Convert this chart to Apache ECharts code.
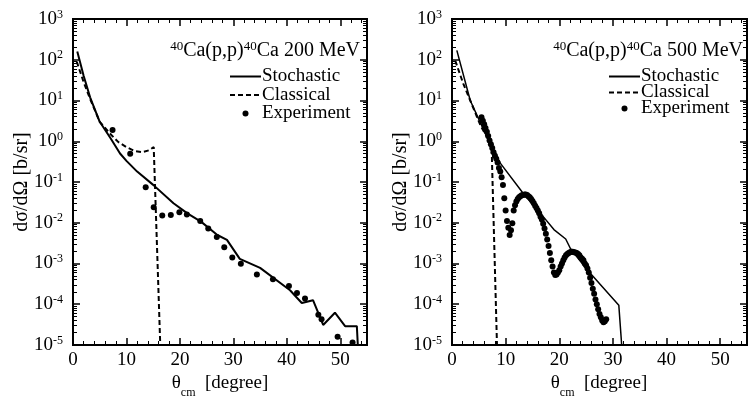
<!DOCTYPE html>
<html>
<head>
<meta charset="utf-8">
<script src="https://cdn.jsdelivr.net/npm/echarts@6/dist/echarts.min.js"></script>
<style>
  html, body { margin: 0; padding: 0; background: #fff; }
  #chart { width: 751px; height: 398px; }
</style>
</head>
<body>
<div id="chart"></div>
<script>
const fontFam = 'Liberation Serif';

// 200 MeV panel
const stoch200X = [0.8, 2.0, 3.2, 5.0, 7.0, 8.8, 10.0, 12.0, 15.0, 18.8, 21.4, 24.0, 27.0, 28.8, 31.2, 35.0, 40.6, 42.8, 44.9, 46.8, 49.0, 50.9, 53.1, 53.4];
const stoch200Y = [160, 40, 12, 3.0, 1.2, 0.5, 0.33, 0.18, 0.085, 0.03, 0.017, 0.0105, 0.005, 0.0038, 0.0013, 0.00078, 0.00022, 0.000107, 0.000126, 0.000031, 0.000062, 0.000029, 0.000029, 0.000005];
const class200X = [0.7, 2.0, 3.2, 5.0, 7.0, 8.5, 10.0, 11.5, 13.0, 14.2, 15.1, 16.4];
const class200Y = [90, 28, 11, 3.0, 1.5, 0.95, 0.72, 0.58, 0.54, 0.6, 0.72, 0.000005];
const exp200X = [7.4, 10.7, 13.6, 15.1, 16.7, 18.3, 19.9, 21.3, 23.8, 25.3, 26.9, 28.3, 29.8, 31.4, 34.4, 37.4, 40.4, 41.9, 43.4, 45.9, 46.5, 49.5, 52.3];
const exp200Y = [1.9, 0.49, 0.074, 0.024, 0.015, 0.0155, 0.018, 0.016, 0.011, 0.0072, 0.0045, 0.0025, 0.0014, 0.00098, 0.00054, 0.00041, 0.00028, 0.00019, 0.000138, 0.000055, 0.000043, 0.000016, 0.0000115];

// 500 MeV panel
const stoch500X = [0.9, 3.4, 5.9, 7.4, 9.0, 13.4, 16.5, 19.0, 21.2, 22.1, 25.2, 31.1, 31.8];
const stoch500Y = [170, 10, 1.9, 0.73, 0.29, 0.05, 0.017, 0.0068, 0.004, 0.0023, 0.0007, 0.000095, 0.000005];
const class500X = [0.6, 2.1, 3.4, 5.4, 7.2, 7.4, 8.45];
const class500Y = [95, 26, 10, 2.3, 0.9, 0.6, 0.000005];
const exp500X = [5.5, 5.75, 6.0, 6.25, 6.5, 6.75, 7.0, 7.25, 7.5, 7.75, 8.0, 8.25, 8.5, 8.75, 9.0, 9.25, 9.5, 9.75, 10.0, 10.25, 10.5, 10.75,
  11.0, 11.25, 11.5, 11.75, 12.0, 12.25, 12.5, 12.75, 13.0, 13.25, 13.5, 13.75, 14.0, 14.25, 14.5, 14.75, 15.0, 15.25, 15.5, 15.75,
  16.0, 16.25, 16.5, 16.75, 17.0, 17.25, 17.5, 17.75, 18.0, 18.25, 18.5, 18.75, 19.0, 19.25, 19.5, 19.75, 20.0, 20.25, 20.5, 20.75,
  21.0, 21.25, 21.5, 21.75, 22.0, 22.25, 22.5, 22.75, 23.0, 23.25, 23.5, 23.75, 24.0, 24.25, 24.5, 24.75, 25.0, 25.25, 25.5, 25.75,
  26.0, 26.25, 26.5, 26.75, 27.0, 27.25, 27.5, 27.75, 28.0, 28.25, 28.5, 28.75];
const exp500Y = [3.9, 3.2, 2.6, 2.1, 1.7, 1.35, 1.05, 0.85, 0.68, 0.54, 0.44, 0.37, 0.3, 0.22, 0.18, 0.13, 0.085, 0.04, 0.02, 0.011, 0.0075, 0.005,
  0.0065, 0.0097, 0.02, 0.027, 0.033, 0.038, 0.042, 0.045, 0.047, 0.048, 0.049, 0.049, 0.048, 0.045, 0.042, 0.038, 0.034, 0.03, 0.026, 0.023,
  0.02, 0.017, 0.014, 0.012, 0.0095, 0.0072, 0.0054, 0.0039, 0.0027, 0.0018, 0.0012, 0.00085, 0.0006, 0.00052, 0.00054, 0.0006, 0.00068, 0.00085, 0.001, 0.0012,
  0.0014, 0.0016, 0.0017, 0.0018, 0.0019, 0.00195, 0.00195, 0.0019, 0.00185, 0.0018, 0.0017, 0.0016, 0.0014, 0.0013, 0.0012, 0.001, 0.0009, 0.00075, 0.0006, 0.00045,
  0.00033, 0.00024, 0.00018, 0.00013, 0.0001, 0.000075, 0.000058, 0.000048, 0.00004, 0.000036, 0.000038, 0.000043];

const zip = (xs, ys) => xs.map((x, i) => [x, ys[i]]);

const black = '#000';
const clear = 'rgba(0,0,0,0)';

// frame drawn by the grid border, ticks by the axes
const grids = [
  { left: 73, top: 19, width: 294, height: 326, outerBoundsMode: 'none', show: true, borderColor: black, borderWidth: 2, backgroundColor: clear },
  { left: 452, top: 19, width: 295, height: 326, outerBoundsMode: 'none', show: true, borderColor: black, borderWidth: 2, backgroundColor: clear }
];

const supRich = {
  b: { fontFamily: fontFam, fontSize: 19, color: black },
  s: { fontFamily: fontFam, fontSize: 12, color: black, padding: [0, 0, 9, 0] }
};

function xAxesFor(g) {
  const mk = (pos, labelColor) => ({
    gridIndex: g, type: 'value', min: 0, max: 55, interval: 10, position: pos,
    axisLine: { show: true, onZero: false, lineStyle: { color: black, width: 2 } },
    axisTick: { show: true, inside: true, length: 7, lineStyle: { color: black, width: 1.5 } },
    minorTick: { show: true, splitNumber: 5, length: 4, lineStyle: { color: black } },
    splitLine: { show: false },
    axisLabel: { showMaxLabel: false, color: labelColor, fontFamily: fontFam, fontSize: 19, margin: 6 }
  });
  return [mk('bottom', black), mk('top', clear)];
}

function yAxesFor(g) {
  const mk = (pos, labelColor) => ({
    gridIndex: g, type: 'log', min: 1e-5, max: 1e3, interval: 1, position: pos,
    axisLine: { show: true, onZero: false, lineStyle: { color: black, width: 2 } },
    axisTick: { show: true, inside: true, length: 7, lineStyle: { color: black, width: 1.5 } },
    minorTick: { show: true, splitNumber: 9, length: 4, lineStyle: { color: black } },
    splitLine: { show: false },
    axisLabel: {
      margin: 10, fontFamily: fontFam, fontSize: 19, color: labelColor,
      formatter: (v) => '{b|10}{s|' + Math.round(Math.log10(v)) + '}',
      rich: labelColor === black ? supRich : {
        b: { fontSize: 19, color: clear }, s: { fontSize: 12, color: clear, padding: [0, 0, 9, 0] }
      }
    }
  });
  return [mk('left', black), mk('right', clear)];
}

function seriesFor(g, stoch, cls, exp) {
  const xi = g * 2, yi = g * 2;
  return [
    { name: 'Stochastic', type: 'line', xAxisIndex: xi, yAxisIndex: yi, data: stoch, symbol: 'none',
      lineStyle: { color: black, width: g === 0 ? 2 : 1.5 }, itemStyle: { color: black } },
    { name: 'Classical', type: 'line', xAxisIndex: xi, yAxisIndex: yi, data: cls, symbol: 'none',
      lineStyle: { color: black, width: 2, type: [5, 3] }, itemStyle: { color: black } },
    { name: 'Experiment', type: 'scatter', xAxisIndex: xi, yAxisIndex: yi, data: exp, symbol: 'circle',
      symbolSize: 6, itemStyle: { color: black, opacity: 1 } }
  ];
}

const titleRich = {
  s: { fontFamily: fontFam, fontSize: 13, color: black, padding: [0, 0, 9, 0] }
};

const noMarker = { color: clear, borderWidth: 0, opacity: 0 };

function legendFor(left, top, gap) {
  return {
    orient: 'vertical', left: left, top: top, itemGap: gap, itemWidth: 31, itemHeight: 6,
    selectedMode: false, align: 'left', padding: 0,
    data: [
      { name: 'Stochastic', itemStyle: noMarker },
      { name: 'Classical', itemStyle: noMarker },
      { name: 'Experiment', itemStyle: { color: black, opacity: 1 } }
    ],
    textStyle: { fontFamily: fontFam, fontSize: 19, color: black, padding: [0, 0, 0, -4] }
  };
}

// axis titles
function yName(x) {
  return { type: 'text', x: x, y: 182, rotation: Math.PI / 2,
    style: { text: 'dσ/dΩ [b/sr]', fontFamily: fontFam, fontSize: 20, fill: black, align: 'center', verticalAlign: 'middle' } };
}
function xName(x) {
  return { type: 'text', x: x, y: 383,
    style: { text: '{t|θ}{c|cm}  [degree]', fontFamily: fontFam, fontSize: 19, fill: black, align: 'center', verticalAlign: 'middle',
      rich: {
        t: { fontFamily: fontFam, fontSize: 19, fill: black },
        c: { fontFamily: fontFam, fontSize: 12, fill: black, padding: [20, 0, 0, 0] }
      } } };
}

const chart = echarts.init(document.getElementById('chart'));
chart.setOption({
  animation: false,
  backgroundColor: '#fff',
  grid: grids,
  title: [
    { text: '{s|40}Ca(p,p){s|40}Ca 200 MeV', right: 391, top: 40, padding: 0,
      textStyle: { fontFamily: fontFam, fontSize: 20, fontWeight: 'normal', color: black, rich: titleRich } },
    { text: '{s|40}Ca(p,p){s|40}Ca 500 MeV', right: 8, top: 40, padding: 0,
      textStyle: { fontFamily: fontFam, fontSize: 20, fontWeight: 'normal', color: black, rich: titleRich } }
  ],
  legend: [legendFor(229, 67, -0.5), legendFor(608, 67, -3)],
  graphic: [yName(22), yName(401), xName(220), xName(599)],
  xAxis: xAxesFor(0).concat(xAxesFor(1)),
  yAxis: yAxesFor(0).concat(yAxesFor(1)),
  series: seriesFor(0, zip(stoch200X, stoch200Y), zip(class200X, class200Y), zip(exp200X, exp200Y))
    .concat(seriesFor(1, zip(stoch500X, stoch500Y), zip(class500X, class500Y), zip(exp500X, exp500Y)))
});
</script>
</body>
</html>
